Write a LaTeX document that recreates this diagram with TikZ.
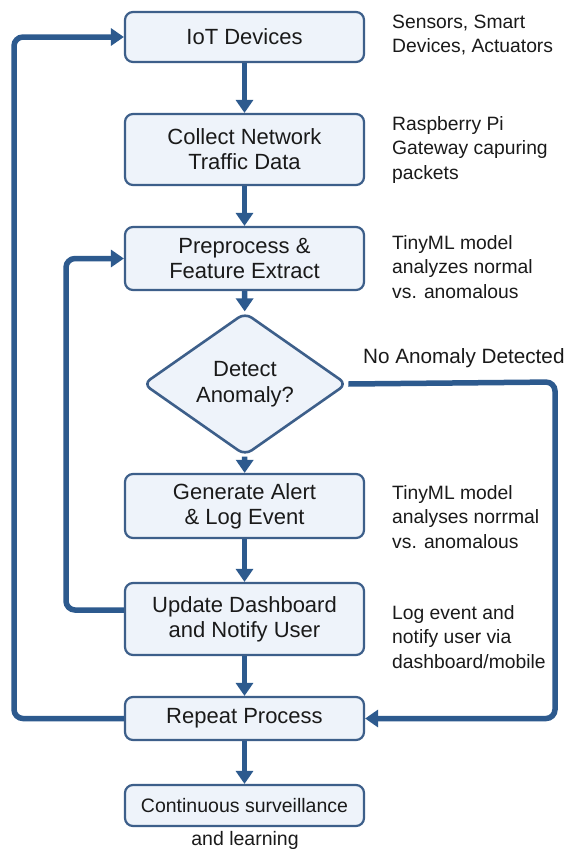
\documentclass[tikz,border=0pt]{standalone}
\usepackage{fontspec}
\setmainfont{Liberation Sans}
\usetikzlibrary{arrows.meta,shapes.geometric}
\definecolor{flow}{HTML}{2D5A8E}
\definecolor{boxfill}{HTML}{EEF3FA}
\definecolor{boxline}{HTML}{3D5F8A}
\definecolor{txt}{HTML}{1A1A1A}
\begin{document}
\begin{tikzpicture}[x=1pt,y=-1pt,
  procbox/.style={draw=boxline,line width=2.2pt,fill=boxfill,rounded corners=8pt,
    minimum width=239pt,inner sep=0pt,align=center,text=txt,font=\fontsize{22}{25}\selectfont},
  decbox/.style={diamond,draw=boxline,line width=2.6pt,fill=boxfill,rounded corners=8pt,
    minimum width=204pt,minimum height=128pt,inner sep=0pt,align=center,text=txt,font=\fontsize{22}{25.5}\selectfont},
  note/.style={anchor=west,align=left,text=txt,inner sep=0pt,font=\fontsize{19.3}{24.5}\selectfont},
  flowline/.style={draw=flow,line width=5.5pt,-{Triangle[width=17pt,length=13pt]}},
  loopline/.style={flowline,rounded corners=9pt}]
\useasboundingbox (0,0) rectangle (567,852);
\fill[white] (0,0) rectangle (567,852);

\node[procbox,minimum height=50pt] (iot) at (244.5,37) {IoT Devices};
\node[procbox,minimum height=71pt] (collect) at (244.5,149.5) {Collect Network\\Traffic Data};
\node[procbox,minimum height=63pt] (prep) at (244.5,258.5) {Preprocess \&\\Feature Extract};
\node[decbox] (detect) at (245,384) {Detect\\Anomaly?};
\node[procbox,minimum height=64pt] (alert) at (244.5,506) {Generate Alert\\\& Log Event};
\node[procbox,minimum height=72pt] (update) at (244.5,619) {Update Dashboard\\and Notify User};
\node[procbox,minimum height=43pt] (repeat) at (244.5,718.5) {Repeat Process};
\node[procbox,minimum height=41pt,font=\fontsize{19.5}{24}\selectfont] (cont) at (244.5,805.5) {Continuous surveillance};
\node[text=txt,inner sep=0pt,font=\fontsize{19.5}{24}\selectfont] (learn) at (245,840) {and learning};

\node[note] (n1) at (392,35) {Sensors, Smart\\Devices, Actuators};
\node[note] (n2) at (392,150) {Raspberry Pi\\Gateway capuring\\packets};
\node[note] (n3) at (392,267) {TinyML model\\analyzes normal\\vs. anomalous};
\node[note,font=\fontsize{20.7}{24}\selectfont] (n4) at (363,358) {No Anomaly Detected};
\node[note] (n5) at (392,517) {TinyML model\\analyses norrmal\\vs. anomalous};
\node[note] (n6) at (392,637) {Log event and\\notify user via\\dashboard/mobile};

\draw[flowline] (iot) -- (collect);
\draw[flowline] (collect) -- (prep);
\draw[flowline] (prep) -- (detect);
\draw[flowline] (detect) -- (alert);
\draw[flowline] (alert) -- (update);
\draw[flowline] (update) -- (repeat);
\draw[flowline] (repeat) -- (cont);

\coordinate (c1) at (555,382);
\coordinate (c2) at (555,718.5);
\draw[loopline] (detect.east) -- (c1) -- (c2) -- (repeat.east);

\coordinate (c3) at (66,610);
\coordinate (c4) at (66,258.5);
\draw[loopline] (update.west |- c3) -- (c3) -- (c4) -- (prep.west);

\coordinate (c5) at (14,718.5);
\coordinate (c6) at (14,37);
\draw[loopline] (repeat.west) -- (c5) -- (c6) -- (iot.west);
\end{tikzpicture}
\end{document}
